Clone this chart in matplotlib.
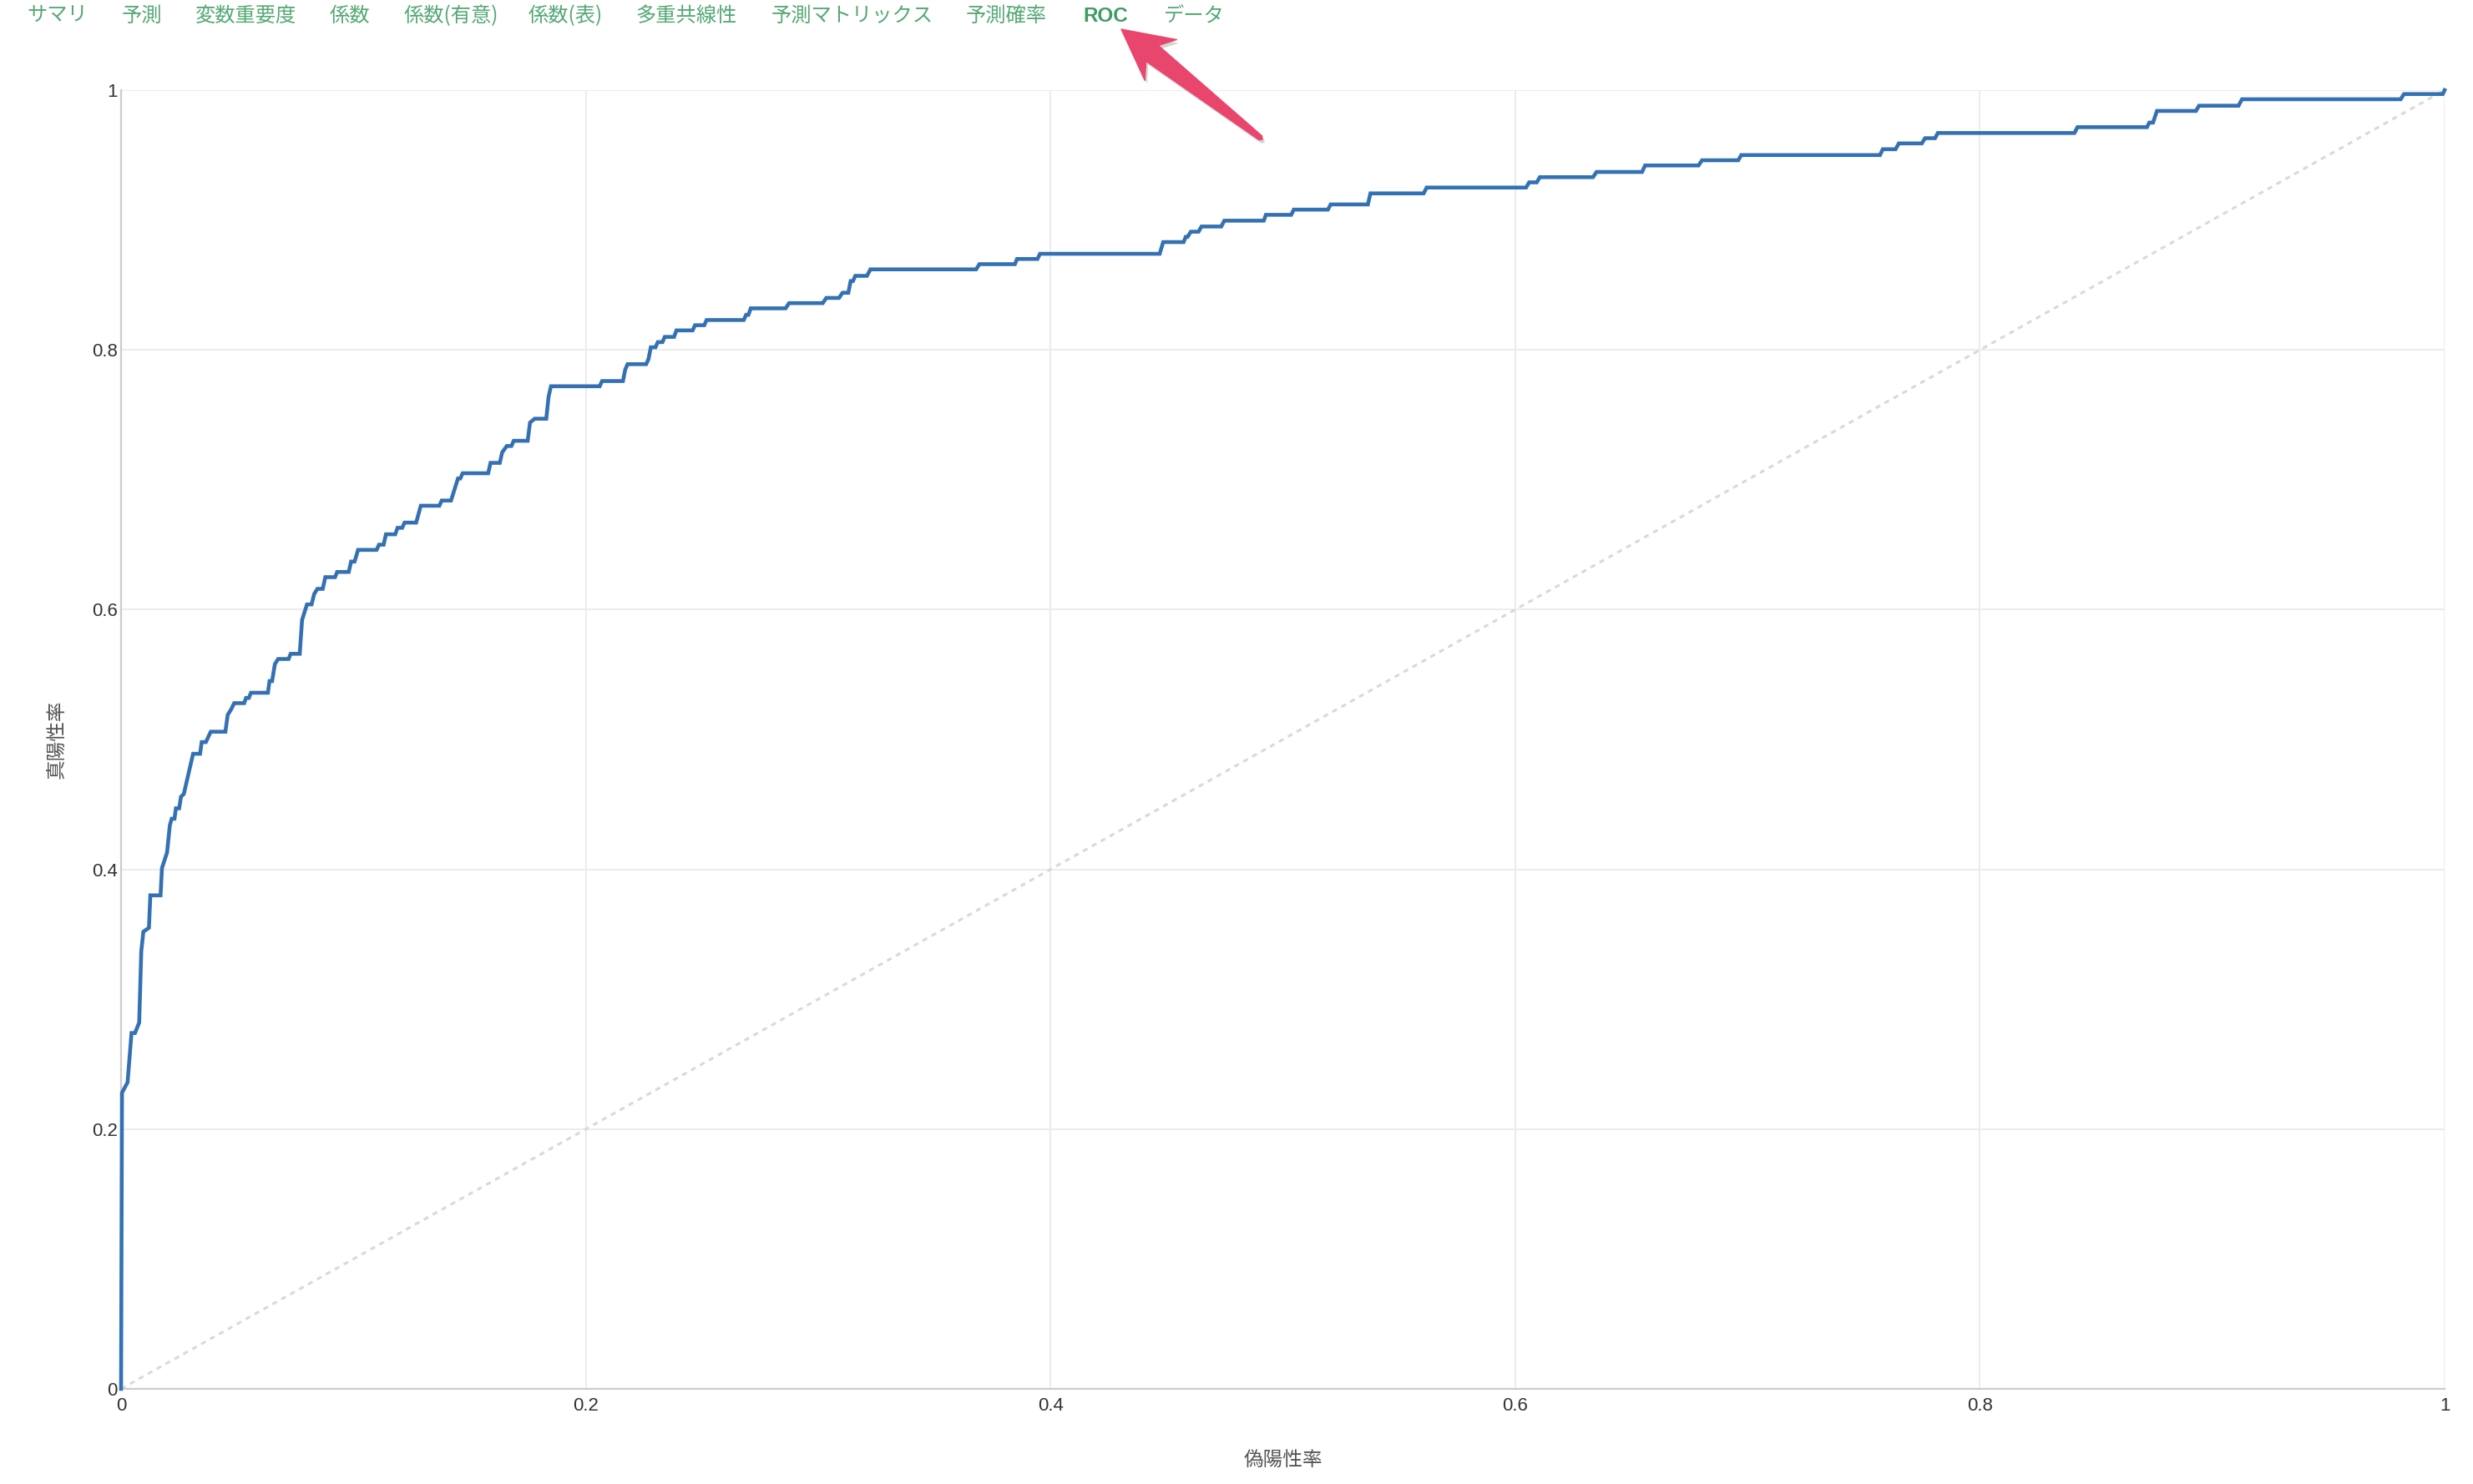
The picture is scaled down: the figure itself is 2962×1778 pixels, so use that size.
import matplotlib
matplotlib.use("Agg")
import matplotlib.pyplot as plt
from matplotlib.patches import Polygon
import matplotlib.patheffects as pe
import numpy as np

# ---- data ----
tabs = ["サマリ", "予測", "変数重要度", "係数", "係数(有意)", "係数(表)",
        "多重共線性", "予測マトリックス", "予測確率", "ROC", "データ"]
active_tab = "ROC"

fpr = [0.0, 0.0004, 0.0028, 0.0045, 0.006, 0.0078, 0.0087, 0.0096, 0.012, 0.0126,
       0.017, 0.0176, 0.0198, 0.021, 0.0218, 0.023, 0.0236, 0.025, 0.0258, 0.027,
       0.031, 0.034, 0.0347, 0.0365, 0.0386, 0.0449, 0.0459, 0.0473, 0.0487, 0.053,
       0.0538, 0.055, 0.0559, 0.0632, 0.0639, 0.065, 0.0662, 0.0676, 0.0721, 0.073,
       0.0769, 0.0779, 0.080, 0.082, 0.0831, 0.0845, 0.0868, 0.0879, 0.0921, 0.0930,
       0.0980, 0.099, 0.1005, 0.102, 0.110, 0.111, 0.113, 0.114, 0.118, 0.119,
       0.121, 0.122, 0.127, 0.129, 0.137, 0.138, 0.142, 0.145, 0.146, 0.147,
       0.158, 0.159, 0.163, 0.164, 0.166, 0.168, 0.169, 0.175, 0.176, 0.178,
       0.183, 0.184, 0.185, 0.206, 0.207, 0.216, 0.217, 0.218, 0.226, 0.227,
       0.228, 0.230, 0.231, 0.233, 0.234, 0.238, 0.239, 0.246, 0.247, 0.251,
       0.252, 0.268, 0.269, 0.270, 0.271, 0.286, 0.2875, 0.302, 0.3035, 0.309,
       0.3105, 0.313, 0.314, 0.315, 0.316, 0.321, 0.3225, 0.368, 0.3694, 0.3847,
       0.3856, 0.3944, 0.3955, 0.447, 0.4485, 0.4573, 0.4582, 0.459, 0.4604, 0.4637,
       0.465, 0.4735, 0.4748, 0.4918, 0.4927, 0.5036, 0.5047, 0.5194, 0.5206, 0.5366,
       0.5377, 0.5606, 0.5619, 0.6047, 0.606, 0.6093, 0.6106, 0.6335, 0.635, 0.6546,
       0.6559, 0.6789, 0.6804, 0.696, 0.6973, 0.757, 0.7582, 0.7637, 0.7651, 0.775,
       0.7764, 0.7807, 0.7819, 0.8407, 0.842, 0.8719, 0.8729, 0.8745, 0.8762, 0.893,
       0.8943, 0.9113, 0.9128, 0.9811, 0.9825, 0.9992, 1.0]
tpr = [0.0, 0.228, 0.236, 0.274, 0.274, 0.282, 0.337, 0.352, 0.355, 0.380,
       0.380, 0.401, 0.413, 0.434, 0.439, 0.439, 0.447, 0.447, 0.456, 0.458,
       0.489, 0.489, 0.498, 0.498, 0.506, 0.506, 0.519, 0.523, 0.528, 0.528,
       0.532, 0.532, 0.536, 0.536, 0.545, 0.545, 0.558, 0.562, 0.562, 0.566,
       0.566, 0.592, 0.604, 0.604, 0.612, 0.616, 0.616, 0.625, 0.625, 0.629,
       0.629, 0.637, 0.637, 0.646, 0.646, 0.650, 0.650, 0.658, 0.658, 0.663,
       0.663, 0.667, 0.667, 0.680, 0.680, 0.684, 0.684, 0.701, 0.701, 0.705,
       0.705, 0.713, 0.713, 0.721, 0.726, 0.726, 0.730, 0.730, 0.744, 0.747,
       0.747, 0.764, 0.772, 0.772, 0.776, 0.776, 0.785, 0.789, 0.789, 0.793,
       0.802, 0.802, 0.806, 0.806, 0.810, 0.810, 0.815, 0.815, 0.819, 0.819,
       0.823, 0.823, 0.827, 0.827, 0.832, 0.832, 0.836, 0.836, 0.840, 0.840,
       0.844, 0.844, 0.853, 0.853, 0.857, 0.857, 0.862, 0.862, 0.866, 0.866,
       0.870, 0.870, 0.874, 0.874, 0.883, 0.883, 0.887, 0.887, 0.891, 0.891,
       0.895, 0.895, 0.8995, 0.8995, 0.904, 0.904, 0.908, 0.908, 0.912, 0.912,
       0.9205, 0.9205, 0.925, 0.925, 0.929, 0.929, 0.933, 0.933, 0.937, 0.937,
       0.942, 0.942, 0.946, 0.946, 0.950, 0.950, 0.9545, 0.9545, 0.959, 0.959,
       0.963, 0.963, 0.967, 0.967, 0.9715, 0.9715, 0.975, 0.975, 0.984, 0.984,
       0.988, 0.988, 0.993, 0.993, 0.997, 0.997, 1.0]

ticks = [0, 0.2, 0.4, 0.6, 0.8, 1.0]
tick_labels = ["0", "0.2", "0.4", "0.6", "0.8", "1"]
x_label = "偽陽性率"
y_label = "真陽性率"

# ---- figure ----
W, H = 2962, 1778
fig = plt.figure(figsize=(W / 100, H / 100), dpi=100)
fig.patch.set_facecolor("white")

ax = fig.add_axes([145 / W, 114 / H, (2928 - 145) / W, (1664 - 108) / H])
ax.set_xlim(0, 1)
ax.set_ylim(0, 1)

ax.plot([0, 1], [0, 1], color="#d9d9d9", lw=2.2, linestyle=(0, (2, 2)), zorder=2, clip_on=False)
ax.plot(fpr, tpr, color="#3471b3", lw=3.3, solid_joinstyle="miter", zorder=3, clip_on=False)

ax.set_xticks(ticks)
ax.set_yticks(ticks)
tick_font = ["Liberation Sans", "DejaVu Sans"]
ax.set_xticklabels(tick_labels, fontsize=16, color="#333333", family=tick_font)
ax.set_yticklabels(tick_labels, fontsize=16, color="#333333", family=tick_font)
ax.tick_params(axis="both", length=0)
ax.tick_params(axis="x", pad=7)
ax.tick_params(axis="y", pad=3)

ax.grid(True, color="#ebebeb", lw=1.3)
ax.set_axisbelow(True)
for s in ["top", "right"]:
    ax.spines[s].set_visible(False)
for s in ["left", "bottom"]:
    ax.spines[s].set_color("#cccccc")
    ax.spines[s].set_linewidth(1.6)

jp = ["Noto Sans CJK JP", "DejaVu Sans"]
ax.set_xlabel(x_label, fontsize=17, color="#555555", family=jp)
ax.set_ylabel(y_label, fontsize=17, color="#555555", family=jp)
ax.xaxis.set_label_coords(0.5, (1664 - 1749) / 1556)
ax.yaxis.set_label_coords((68 - 145) / 2783, 0.5)
ax.xaxis.label.set_verticalalignment("center")
ax.yaxis.label.set_verticalalignment("center")

# ---- tab bar ----
tab_x = [32, 146, 234, 395, 484, 633, 761, 924, 1157, 1297, 1394]
for name, xp in zip(tabs, tab_x):
    bold = name == active_tab
    fam = ["Liberation Sans", "Noto Sans CJK JP"] if bold else jp
    fig.text(xp / W, 1 - 19 / H, name, fontsize=17.5, color="#3f9c63" if bold else "#55a874",
             fontweight="bold" if bold else "normal", family=fam, ha="left", va="center")

# ---- pink arrow annotation ----
tip = np.array([1343.0, 35.0])
tail = np.array([1512.0, 167.0])
d = tip - tail
L = np.hypot(*d)
u = -d / L                       # from tip toward tail
n = np.array([-u[1], u[0]])

def P(s, w):
    p = tip + u * s + n * w
    return (p[0] / W, 1 - p[1] / H)

poly = [P(0, 0), P(60, 31), P(47, 12), P(L - 3, 3), P(L, 0), P(L - 3, -3),
        P(47, -12), P(60, -31)]
arrow = Polygon(poly, closed=True, transform=fig.transFigure, facecolor="#e9466d",
                edgecolor="#e9466d", lw=1, joinstyle="round", zorder=10)
arrow.set_path_effects([pe.SimplePatchShadow(offset=(2, -3), shadow_rgbFace="#888888", alpha=0.35),
                        pe.Normal()])
fig.add_artist(arrow)

fig.savefig("out.png", dpi=100, facecolor="white")
